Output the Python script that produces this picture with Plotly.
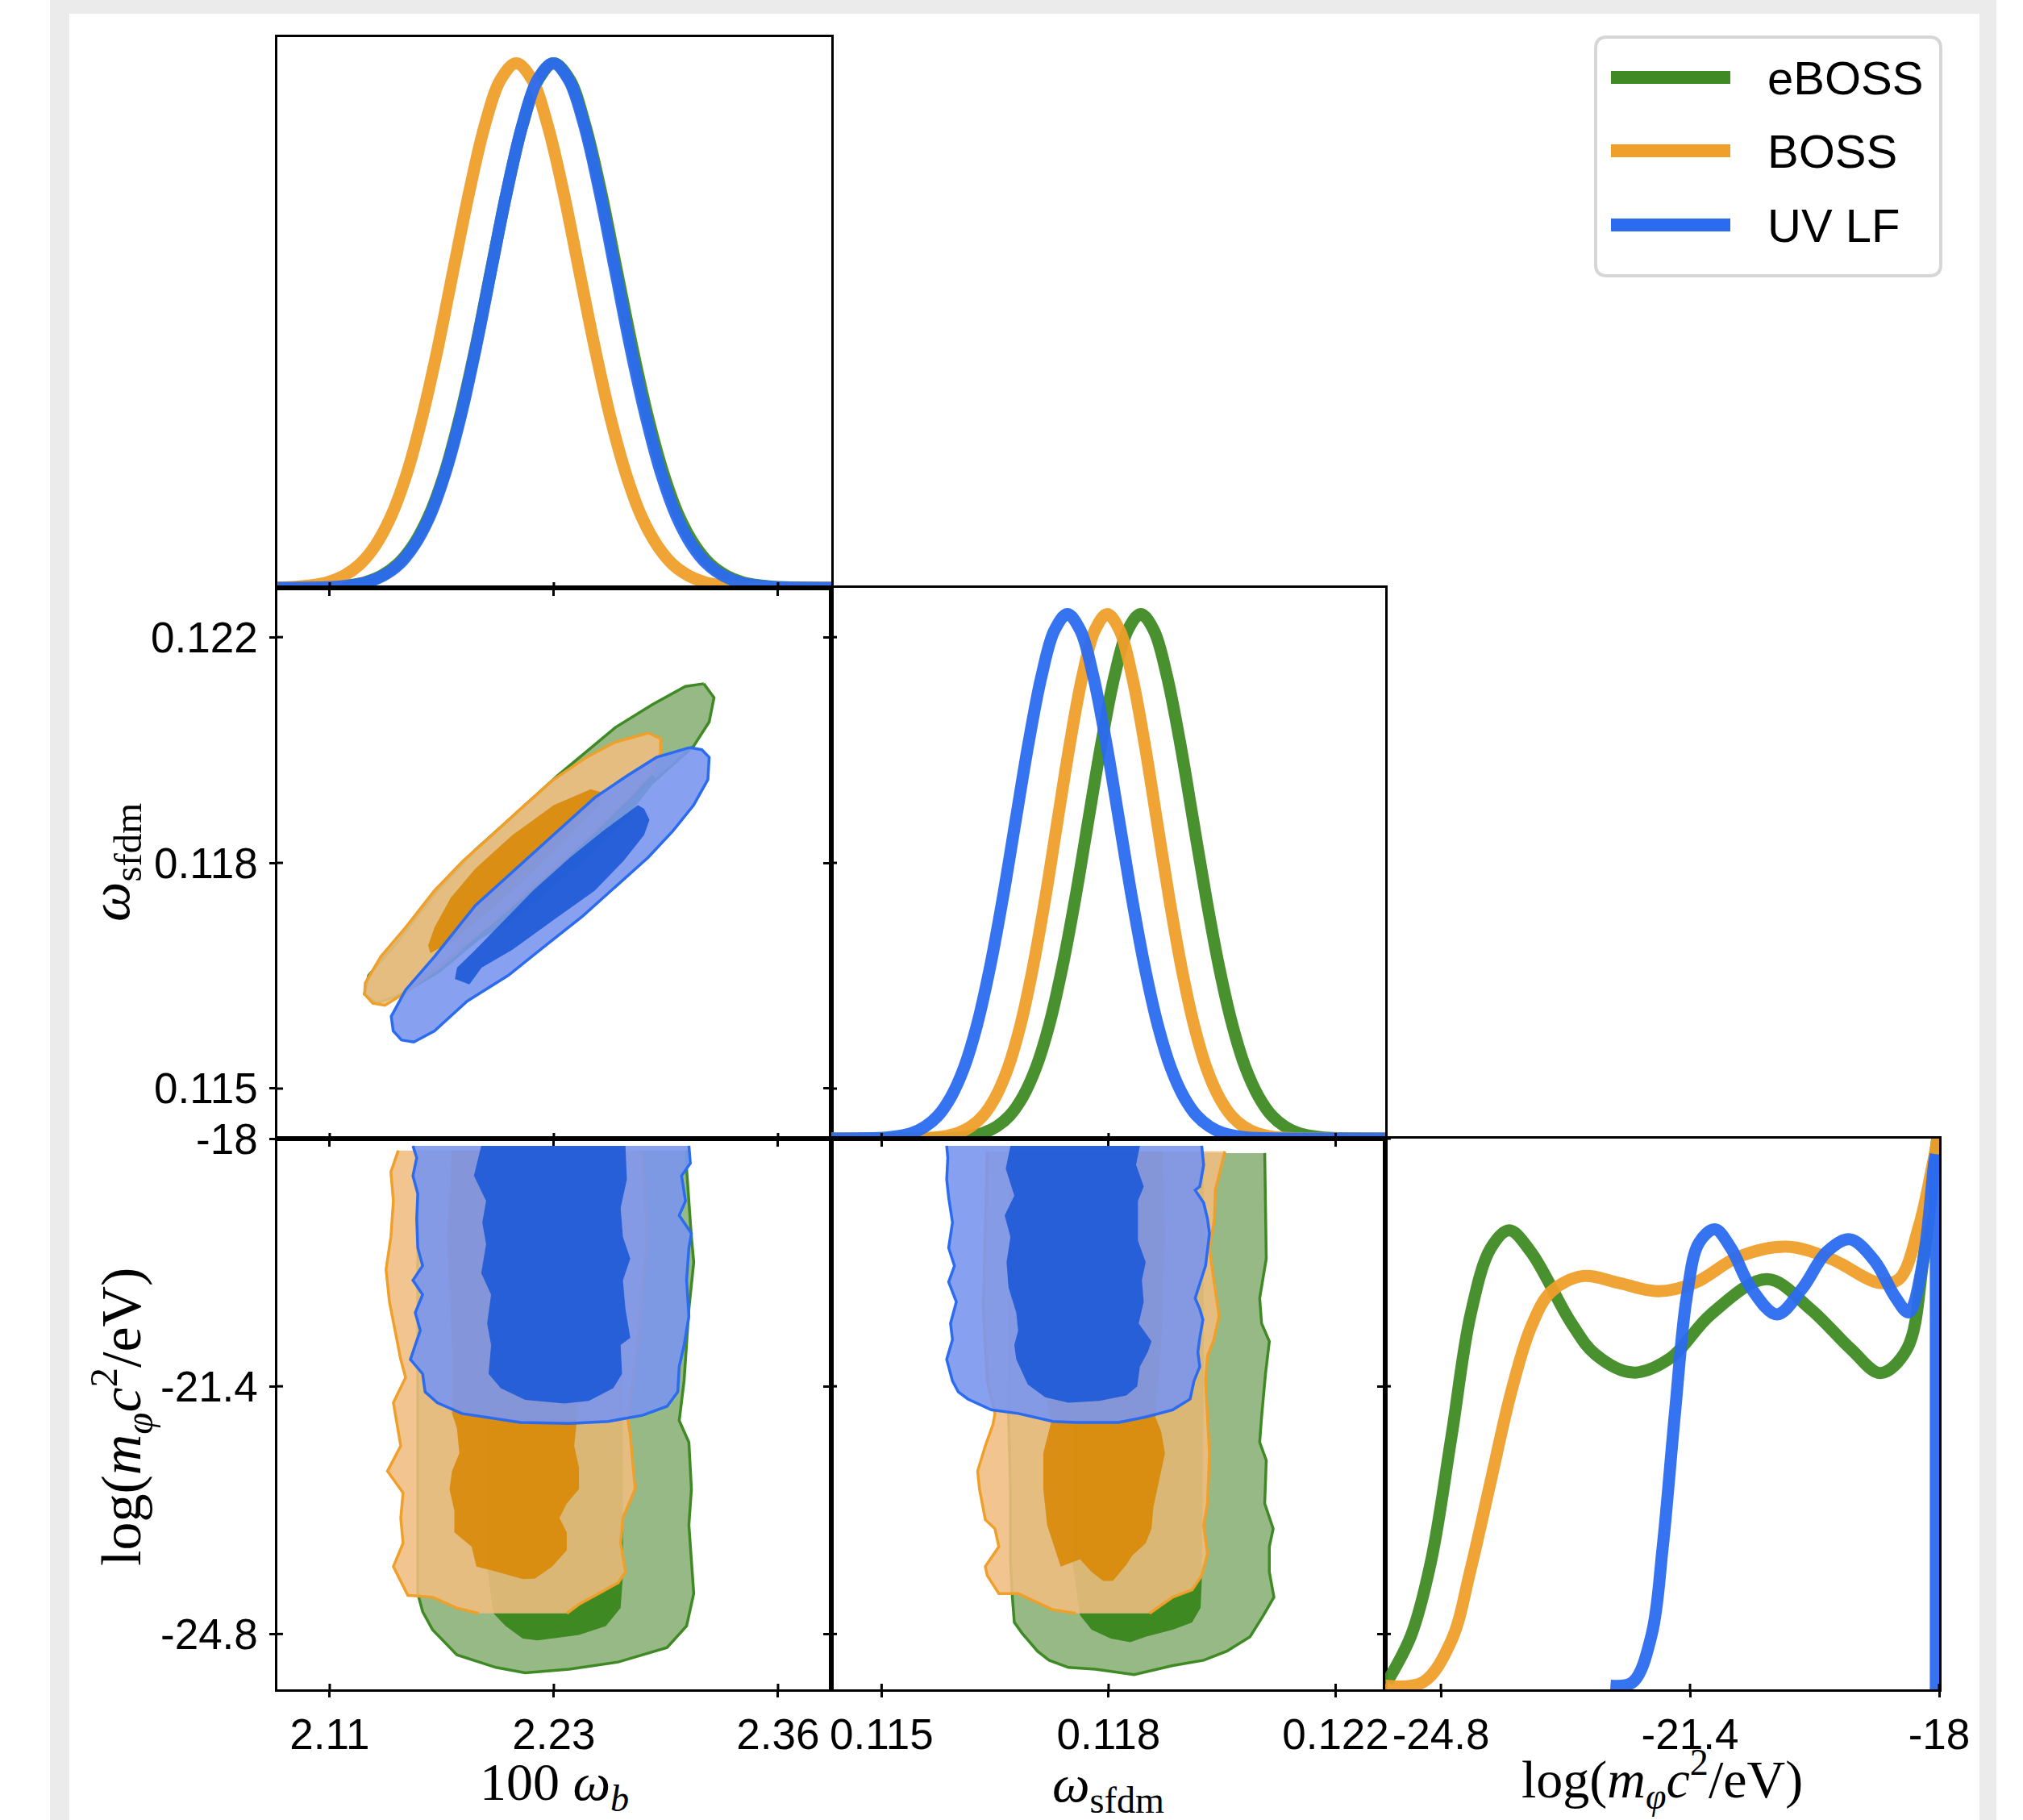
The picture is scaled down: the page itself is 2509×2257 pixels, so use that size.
import plotly.graph_objects as go

W, H = 2509, 2257

# ---------------- axes / ticks ----------------
wb_ticks = [2.105, 2.23, 2.355]
wb_labels = ["2.11", "2.23", "2.36"]
sf_ticks = [0.11525, 0.1185, 0.12175]
sf_labels = ["0.115", "0.118", "0.122"]
lm_ticks = [-24.8, -21.4, -18.0]
lm_labels = ["-24.8", "-21.4", "-18"]

wb_range = [2.0758, 2.3847]
sf_range = [0.11453, 0.12246]
lm_range = [-25.56, -18.0]
pdf_range = [0.0, 1.05]

series = ["eBOSS", "BOSS", "UV LF"]

# ---------------- 1D marginals (normalised to peak = 1) ----------------
# peak-normalised heights read along each (near-Gaussian) marginal, tail to tail
peak_profile = [0.0, 0.002, 0.005, 0.011, 0.023, 0.044, 0.080, 0.135, 0.216, 0.325, 0.458, 0.607, 0.755, 0.882, 0.969, 1.0,
                0.969, 0.882, 0.755, 0.607, 0.458, 0.325, 0.216, 0.135, 0.080, 0.044, 0.023, 0.011, 0.005, 0.002, 0.0]

wb_x_eboss = [2.076, 2.1075, 2.1163, 2.125, 2.1338, 2.1425, 2.1513, 2.16, 2.1688, 2.1775, 2.1863, 2.195, 2.2038, 2.2125, 2.2213, 2.23,
              2.2388, 2.2475, 2.2563, 2.265, 2.2738, 2.2825, 2.2913, 2.30, 2.3088, 2.3175, 2.3263, 2.335, 2.3438, 2.3525, 2.385]
wb_x_boss = [2.076, 2.0865, 2.0953, 2.104, 2.1128, 2.1215, 2.1303, 2.139, 2.1478, 2.1565, 2.1653, 2.174, 2.1828, 2.1915, 2.2003, 2.209,
             2.2178, 2.2265, 2.2353, 2.244, 2.2528, 2.2615, 2.2703, 2.279, 2.2878, 2.2965, 2.3053, 2.314, 2.3228, 2.3315, 2.385]
wb_x_uvlf = [2.076, 2.1089, 2.1175, 2.1261, 2.1347, 2.1434, 2.152, 2.1606, 2.1692, 2.1779, 2.1865, 2.1951, 2.2037, 2.2124, 2.221, 2.2296,
             2.2382, 2.2469, 2.2555, 2.2641, 2.2727, 2.2814, 2.29, 2.2986, 2.3072, 2.3159, 2.3245, 2.3331, 2.3417, 2.3504, 2.385]
wb_y_eboss = list(peak_profile)
wb_y_boss = list(peak_profile)
wb_y_uvlf = list(peak_profile)

sf_x_eboss = [0.11453, 0.116335, 0.116523, 0.11671, 0.116898, 0.117085, 0.117273, 0.11746, 0.117648, 0.117835, 0.118023, 0.11821,
              0.118398, 0.118585, 0.118773, 0.11896, 0.119148, 0.119335, 0.119523, 0.11971, 0.119898, 0.120085, 0.120273, 0.12046,
              0.120648, 0.120835, 0.121023, 0.12121, 0.121398, 0.121585, 0.12246]
sf_x_boss = [0.11453, 0.115995, 0.116173, 0.11635, 0.116528, 0.116705, 0.116883, 0.11706, 0.117238, 0.117415, 0.117593, 0.11777,
             0.117948, 0.118125, 0.118303, 0.11848, 0.118658, 0.118835, 0.119013, 0.11919, 0.119368, 0.119545, 0.119723, 0.1199,
             0.120078, 0.120255, 0.120433, 0.12061, 0.120788, 0.120965, 0.12246]
sf_x_uvlf = [0.11453, 0.11532, 0.115505, 0.11569, 0.115875, 0.11606, 0.116245, 0.11643, 0.116615, 0.1168, 0.116985, 0.11717,
             0.117355, 0.11754, 0.117725, 0.11791, 0.118095, 0.11828, 0.118465, 0.11865, 0.118835, 0.11902, 0.119205, 0.11939,
             0.119575, 0.11976, 0.119945, 0.12013, 0.120315, 0.1205, 0.12246]
sf_y_eboss = list(peak_profile)
sf_y_boss = list(peak_profile)
sf_y_uvlf = list(peak_profile)

lm_x_eboss = [-25.535, -25.206, -24.932, -24.657, -24.394, -24.120, -23.868, -23.572, -23.023, -22.694, -22.179, -21.663, -21.115, -20.347, -19.755, -19.206, -18.801, -18.439, -18.219, -18.066, -17.98]
lm_y_eboss = [0.014, 0.103, 0.246, 0.481, 0.715, 0.841, 0.875, 0.834, 0.699, 0.639, 0.604, 0.632, 0.715, 0.782, 0.725, 0.649, 0.603, 0.649, 0.816, 1.005, 1.10]
lm_x_boss = [-25.56, -25.041, -24.657, -24.394, -24.120, -23.846, -23.572, -23.297, -22.859, -22.376, -21.828, -21.334, -20.731, -20.084, -19.481, -18.823, -18.548, -18.274, -18.088, -17.98]
lm_y_boss = [0.007, 0.014, 0.093, 0.229, 0.397, 0.564, 0.690, 0.758, 0.788, 0.775, 0.759, 0.775, 0.825, 0.844, 0.821, 0.775, 0.782, 0.884, 1.001, 1.08]
lm_x_uvlf = [-22.486, -22.179, -21.926, -21.773, -21.608, -21.444, -21.279, -21.060, -20.841, -20.566, -20.215, -19.864, -19.535, -19.217, -18.877, -18.603, -18.417, -18.219, -18.066, -18.045]
lm_y_uvlf = [0.007, 0.014, 0.103, 0.271, 0.523, 0.749, 0.851, 0.877, 0.841, 0.765, 0.715, 0.765, 0.834, 0.858, 0.816, 0.749, 0.719, 0.816, 1.005, 1.02]
lm_x_uvlf_edge = [-18.045, -18.045]
lm_y_uvlf_edge = [1.02, 0.0]

# ---------------- 2D contours: 100 w_b vs w_sfdm ----------------
c21_eboss_out_x = [2.3136, 2.3193, 2.3166, 2.3079, 2.2918, 2.2643, 2.2299, 2.1955, 2.1657, 2.1450, 2.1312, 2.1244, 2.1267, 2.1427, 2.1634, 2.1863, 2.2092, 2.2322, 2.2643, 2.2849, 2.3033]
c21_eboss_out_y = [0.12108, 0.12088, 0.12053, 0.12018, 0.11981, 0.11917, 0.11837, 0.11757, 0.11693, 0.11661, 0.11648, 0.11661, 0.11688, 0.11736, 0.11805, 0.11869, 0.11922, 0.11976, 0.12045, 0.12078, 0.12104]
c21_eboss_in_x = [2.2803, 2.2872, 2.2712, 2.2414, 2.2069, 2.1794, 2.1725, 2.1863, 2.2161, 2.2482]
c21_eboss_in_y = [0.11992, 0.11970, 0.11917, 0.11842, 0.11768, 0.11725, 0.11741, 0.11789, 0.11858, 0.11933]
c21_boss_out_x = [2.2826, 2.2895, 2.2895, 2.2849, 2.2735, 2.2528, 2.2299, 2.2024, 2.1725, 2.1496, 2.1358, 2.1290, 2.1244, 2.1248, 2.1335, 2.1473, 2.1634, 2.1794, 2.1955, 2.2115, 2.2299, 2.2482, 2.2643]
c21_boss_out_y = [0.12037, 0.12029, 0.12008, 0.11981, 0.11949, 0.11896, 0.11842, 0.11779, 0.11715, 0.11667, 0.11645, 0.11648, 0.11661, 0.11677, 0.11715, 0.11757, 0.11810, 0.11853, 0.11890, 0.11928, 0.11970, 0.12002, 0.12024]
c21_boss_in_x = [2.2505, 2.2563, 2.2556, 2.2414, 2.2184, 2.1955, 2.1725, 2.1611, 2.1599, 2.1634, 2.1725, 2.1863, 2.2069, 2.2299]
c21_boss_in_y = [0.11956, 0.11952, 0.11936, 0.11896, 0.11837, 0.11784, 0.11736, 0.11720, 0.11731, 0.11757, 0.11800, 0.11842, 0.11890, 0.11933]
c21_uvlf_out_x = [2.3056, 2.3125, 2.3166, 2.3159, 2.3079, 2.2964, 2.2826, 2.2643, 2.2459, 2.2253, 2.2046, 2.1817, 2.1634, 2.1519, 2.1450, 2.1404, 2.1393, 2.1473, 2.1634, 2.1863, 2.2092, 2.2322, 2.2528, 2.2712, 2.2872]
c21_uvlf_out_y = [0.12016, 0.12013, 0.12002, 0.11970, 0.11933, 0.11896, 0.11858, 0.11816, 0.11773, 0.11731, 0.11688, 0.11651, 0.11608, 0.11592, 0.11595, 0.11608, 0.11629, 0.11667, 0.11715, 0.11789, 0.11842, 0.11896, 0.11944, 0.11976, 0.12002]
c21_uvlf_in_x = [2.2769, 2.2803, 2.2833, 2.2803, 2.2689, 2.2528, 2.2299, 2.2069, 2.1897, 2.1829, 2.1748, 2.1760, 2.1863, 2.2024, 2.2184, 2.2391, 2.2574]
c21_uvlf_in_y = [0.11933, 0.11928, 0.11912, 0.11890, 0.11853, 0.11810, 0.11768, 0.11725, 0.11699, 0.11675, 0.11683, 0.11699, 0.11725, 0.11768, 0.11810, 0.11858, 0.11896]

# ---------------- 2D contours: 100 w_b vs log m ----------------
c31_eboss_out_x = [2.3040, 2.3040, 2.3067, 2.3080, 2.3053, 2.3040, 2.3026, 2.2999, 2.3053, 2.3067, 2.3053, 2.3080, 2.3040, 2.2931, 2.2658, 2.2386, 2.2140, 2.1977, 2.1759, 2.1623, 2.1568, 2.1541, 2.1541, 2.1541, 2.1541]
c31_eboss_out_y = [-18.164, -18.411, -19.350, -19.696, -20.339, -20.834, -21.328, -21.872, -22.168, -22.811, -23.305, -24.245, -24.690, -24.987, -25.185, -25.283, -25.333, -25.259, -25.086, -24.740, -24.492, -24.245, -21.822, -19.350, -18.164]
c31_eboss_in_x = [2.1922, 2.1922, 2.1922, 2.1963, 2.2031, 2.2127, 2.2209, 2.2440, 2.2590, 2.2672, 2.2685, 2.2685, 2.2685]
c31_eboss_in_y = [-18.164, -21.822, -23.797, -24.517, -24.690, -24.863, -24.888, -24.814, -24.690, -24.443, -23.998, -21.822, -18.164]
c31_boss_out_x = [2.2794, 2.2822, 2.2767, 2.2713, 2.2726, 2.2740, 2.2753, 2.2685, 2.2672, 2.2699, 2.2658, 2.2549, 2.2440, 2.2372, 2.1882, 2.1759, 2.1623, 2.1486, 2.1405, 2.1459, 2.1446, 2.1459, 2.1372, 2.1446, 2.1405, 2.1473, 2.1446, 2.1383, 2.1364, 2.1391, 2.1405, 2.1391, 2.1432]
c31_boss_out_y = [-18.164, -19.350, -20.834, -21.872, -22.070, -22.414, -22.811, -23.207, -23.553, -23.948, -24.097, -24.245, -24.393, -24.517, -24.517, -24.443, -24.294, -24.270, -23.874, -23.553, -23.207, -22.861, -22.564, -22.218, -21.625, -21.278, -21.031, -20.240, -19.795, -19.350, -18.856, -18.460, -18.164]
c31_boss_in_x = [2.1732, 2.1704, 2.1732, 2.1732, 2.1759, 2.1773, 2.1732, 2.1718, 2.1745, 2.1745, 2.1841, 2.1868, 2.1950, 2.2059, 2.2127, 2.2195, 2.2290, 2.2372, 2.2372, 2.2331, 2.2372, 2.2440, 2.2440, 2.2413, 2.2426, 2.2440, 2.2413, 2.2440]
c31_boss_in_y = [-18.164, -19.350, -20.834, -21.773, -21.971, -22.317, -22.564, -22.811, -23.108, -23.405, -23.602, -23.874, -23.924, -23.998, -24.047, -24.037, -23.874, -23.652, -23.405, -23.207, -23.009, -22.811, -22.515, -22.218, -21.921, -20.834, -19.350, -18.164]
c31_uvlf_out_x = [2.3053, 2.3061, 2.3012, 2.3034, 2.2999, 2.3067, 2.3053, 2.3040, 2.3053, 2.3026, 2.2999, 2.2991, 2.2931, 2.2794, 2.2604, 2.2386, 2.2113, 2.1922, 2.1786, 2.1650, 2.1582, 2.1568, 2.1500, 2.1527, 2.1555, 2.1527, 2.1568, 2.1514, 2.1568, 2.1541, 2.1535, 2.1541, 2.1514, 2.1535, 2.1514]
c31_uvlf_out_y = [-18.099, -18.337, -18.510, -18.856, -19.054, -19.301, -19.499, -19.944, -20.438, -20.834, -21.130, -21.476, -21.675, -21.798, -21.882, -21.911, -21.897, -21.822, -21.773, -21.625, -21.476, -21.229, -21.031, -20.834, -20.635, -20.389, -20.141, -19.944, -19.746, -19.499, -19.103, -18.757, -18.510, -18.263, -18.099]
c31_uvlf_in_x = [2.1895, 2.1854, 2.1922, 2.1901, 2.1922, 2.1895, 2.1950, 2.1928, 2.1950, 2.1936, 2.2004, 2.2140, 2.2358, 2.2495, 2.2631, 2.2680, 2.2672, 2.2726, 2.2699, 2.2685, 2.2726, 2.2685, 2.2672, 2.2707, 2.2699]
c31_uvlf_in_y = [-18.099, -18.510, -18.856, -19.152, -19.449, -19.845, -20.141, -20.537, -20.834, -21.229, -21.427, -21.585, -21.635, -21.600, -21.427, -21.229, -20.834, -20.735, -20.339, -19.944, -19.647, -19.350, -18.955, -18.559, -18.099]

# ---------------- 2D contours: w_sfdm vs log m ----------------
c32_eboss_out_x = [0.120735, 0.120746, 0.120757, 0.120663, 0.120690, 0.120801, 0.120746, 0.120690, 0.120663, 0.120757, 0.120735, 0.120856, 0.120801, 0.120801, 0.120867, 0.120718, 0.120525, 0.120193, 0.119861, 0.119418, 0.118865, 0.118312, 0.117924, 0.117648, 0.117482, 0.117261, 0.117150, 0.117122, 0.117095, 0.117095, 0.117067, 0.117095, 0.117095]
c32_eboss_out_y = [-18.198, -18.856, -19.647, -20.191, -20.537, -20.784, -21.229, -21.822, -22.168, -22.416, -23.009, -23.355, -23.602, -23.948, -24.294, -24.541, -24.838, -25.036, -25.160, -25.234, -25.357, -25.283, -25.259, -25.160, -25.036, -24.789, -24.640, -24.294, -23.797, -22.811, -21.822, -20.339, -18.198]
c32_eboss_in_x = [0.117980, 0.119861, 0.119861, 0.119833, 0.119816, 0.119695, 0.119418, 0.119031, 0.118810, 0.118533, 0.118256, 0.118090, 0.117980, 0.117980]
c32_eboss_in_y = [-18.198, -18.198, -21.328, -24.097, -24.443, -24.640, -24.740, -24.838, -24.913, -24.863, -24.740, -24.541, -23.797, -21.328]
c32_boss_out_x = [0.120165, 0.120027, 0.120016, 0.119944, 0.119999, 0.120082, 0.119999, 0.119916, 0.119888, 0.119944, 0.119916, 0.119861, 0.119916, 0.119833, 0.119695, 0.119418, 0.119086, 0.118035, 0.117703, 0.117482, 0.117205, 0.116929, 0.116763, 0.116735, 0.116929, 0.116873, 0.116735, 0.116652, 0.116625, 0.116735, 0.116846, 0.116873, 0.116763, 0.116707, 0.116735, 0.116763]
c32_boss_out_y = [-18.174, -18.708, -19.103, -19.499, -19.894, -20.438, -20.784, -20.982, -21.328, -22.317, -23.009, -23.305, -23.701, -23.998, -24.195, -24.294, -24.517, -24.517, -24.467, -24.369, -24.245, -24.245, -23.998, -23.874, -23.602, -23.355, -23.231, -22.811, -22.564, -22.218, -21.921, -21.773, -21.328, -20.339, -19.350, -18.174]
c32_boss_in_x = [0.117454, 0.117426, 0.117482, 0.117676, 0.117565, 0.117565, 0.117620, 0.117703, 0.117814, 0.118090, 0.118256, 0.118422, 0.118561, 0.118754, 0.118837, 0.119031, 0.119114, 0.119141, 0.119197, 0.119307, 0.119252, 0.119169, 0.119252, 0.119307, 0.119280]
c32_boss_in_y = [-18.174, -19.350, -20.834, -21.897, -22.317, -22.811, -23.305, -23.553, -23.874, -23.775, -23.948, -24.072, -24.072, -23.849, -23.726, -23.553, -23.355, -23.058, -22.811, -22.317, -22.020, -21.822, -20.834, -19.350, -18.174]
c32_uvlf_out_x = [0.119833, 0.119861, 0.119805, 0.119739, 0.119861, 0.119916, 0.119944, 0.119916, 0.119888, 0.119805, 0.119739, 0.119805, 0.119850, 0.119805, 0.119778, 0.119805, 0.119722, 0.119667, 0.119418, 0.119031, 0.118644, 0.118035, 0.117703, 0.117205, 0.116818, 0.116486, 0.116348, 0.116265, 0.116182, 0.116265, 0.116237, 0.116320, 0.116210, 0.116293, 0.116210, 0.116265, 0.116210, 0.116182, 0.116198, 0.116182]
c32_uvlf_out_y = [-18.099, -18.361, -18.658, -18.708, -18.881, -19.103, -19.301, -19.548, -19.746, -19.993, -20.191, -20.339, -20.487, -20.735, -20.932, -21.130, -21.328, -21.575, -21.723, -21.822, -21.897, -21.897, -21.882, -21.773, -21.723, -21.575, -21.476, -21.328, -21.031, -20.759, -20.537, -20.240, -19.968, -19.746, -19.499, -19.152, -18.806, -18.559, -18.263, -18.099]
c32_uvlf_in_x = [0.117095, 0.117028, 0.117150, 0.117012, 0.117095, 0.117039, 0.117067, 0.117178, 0.117205, 0.117150, 0.117178, 0.117344, 0.117592, 0.117924, 0.118367, 0.118754, 0.118909, 0.118948, 0.119059, 0.119114, 0.118931, 0.119003, 0.118976, 0.119031, 0.118920, 0.118920, 0.119003, 0.118893, 0.118948]
c32_uvlf_in_y = [-18.099, -18.411, -18.782, -19.054, -19.350, -19.696, -20.042, -20.389, -20.636, -20.834, -21.031, -21.377, -21.550, -21.625, -21.600, -21.526, -21.402, -21.130, -20.932, -20.784, -20.537, -20.240, -19.944, -19.696, -19.400, -18.856, -18.658, -18.361, -18.099]

# ---------------- styles ----------------
LINE = {"eBOSS": "rgba(63,138,36,0.95)", "BOSS": "rgba(239,159,42,0.95)", "UV LF": "rgba(43,107,239,0.95)"}
SOLID = {"eBOSS": "#3f8a24", "BOSS": "#efa02b", "UV LF": "#2b6bef"}
FILL_OUT = {"eBOSS": "rgba(139,177,121,0.9)", "BOSS": "rgba(240,189,129,0.88)", "UV LF": "rgba(122,150,238,0.9)"}
FILL_IN = {"eBOSS": "rgba(58,134,28,0.95)", "BOSS": "rgba(216,138,8,0.9)", "UV LF": "rgba(30,90,215,0.92)"}

fig = go.Figure()


def add_1d(x, y, name, xa, ya, shape="spline"):
    fig.add_trace(go.Scatter(x=x, y=y, mode="lines", name=name, xaxis=xa, yaxis=ya,
                             line=dict(color=LINE[name], width=15, shape=shape, smoothing=1.0),
                             hoverinfo="skip", showlegend=False))


def add_2d(ox, oy, ix, iy, name, xa, ya, gaps=(), closed=False):
    fig.add_trace(go.Scatter(x=ox, y=oy, mode="lines", fill="toself", fillcolor=FILL_OUT[name],
                             line=dict(width=0), xaxis=xa, yaxis=ya, name=name,
                             hoverinfo="skip", showlegend=False))
    fig.add_trace(go.Scatter(x=ix, y=iy, mode="lines", fill="toself", fillcolor=FILL_IN[name],
                             line=dict(width=0), xaxis=xa, yaxis=ya, name=name,
                             hoverinfo="skip", showlegend=False))
    lx, ly = [], []
    for i, (a, b) in enumerate(zip(ox, oy)):
        lx.append(a)
        ly.append(b)
        if i in gaps:
            lx.append(None)
            ly.append(None)
    if closed:
        lx.append(ox[0])
        ly.append(oy[0])
    fig.add_trace(go.Scatter(x=lx, y=ly, mode="lines", line=dict(color=SOLID[name], width=3.5),
                             xaxis=xa, yaxis=ya, name=name, connectgaps=False,
                             hoverinfo="skip", showlegend=False))


# diagonal 1: 100 w_b
add_1d(wb_x_eboss, wb_y_eboss, "eBOSS", "x", "y")
add_1d(wb_x_boss, wb_y_boss, "BOSS", "x", "y")
add_1d(wb_x_uvlf, wb_y_uvlf, "UV LF", "x", "y")

# panel (2,1)
add_2d(c21_eboss_out_x, c21_eboss_out_y, c21_eboss_in_x, c21_eboss_in_y, "eBOSS", "x2", "y2", closed=True)
add_2d(c21_boss_out_x, c21_boss_out_y, c21_boss_in_x, c21_boss_in_y, "BOSS", "x2", "y2", closed=True)
add_2d(c21_uvlf_out_x, c21_uvlf_out_y, c21_uvlf_in_x, c21_uvlf_in_y, "UV LF", "x2", "y2", closed=True)

# diagonal 2: w_sfdm
add_1d(sf_x_eboss, sf_y_eboss, "eBOSS", "x3", "y3")
add_1d(sf_x_boss, sf_y_boss, "BOSS", "x3", "y3")
add_1d(sf_x_uvlf, sf_y_uvlf, "UV LF", "x3", "y3")

# panel (3,1)
add_2d(c31_eboss_out_x, c31_eboss_out_y, c31_eboss_in_x, c31_eboss_in_y, "eBOSS", "x4", "y4")
add_2d(c31_boss_out_x, c31_boss_out_y, c31_boss_in_x, c31_boss_in_y, "BOSS", "x4", "y4", gaps=(13,))
add_2d(c31_uvlf_out_x, c31_uvlf_out_y, c31_uvlf_in_x, c31_uvlf_in_y, "UV LF", "x4", "y4")

# panel (3,2)
add_2d(c32_eboss_out_x, c32_eboss_out_y, c32_eboss_in_x, c32_eboss_in_y, "eBOSS", "x5", "y5")
add_2d(c32_boss_out_x, c32_boss_out_y, c32_boss_in_x, c32_boss_in_y, "BOSS", "x5", "y5", gaps=(16,))
add_2d(c32_uvlf_out_x, c32_uvlf_out_y, c32_uvlf_in_x, c32_uvlf_in_y, "UV LF", "x5", "y5")

# diagonal 3: log m
add_1d(lm_x_eboss, lm_y_eboss, "eBOSS", "x6", "y6")
add_1d(lm_x_boss, lm_y_boss, "BOSS", "x6", "y6")
add_1d(lm_x_uvlf, lm_y_uvlf, "UV LF", "x6", "y6")
add_1d(lm_x_uvlf_edge, lm_y_uvlf_edge, "UV LF", "x6", "y6", shape="linear")

# ---------------- layout ----------------
COLS = [(344, 1031), (1031, 1718), (1718, 2405)]
ROWS = [(46, 729), (729, 1412), (1412, 2095)]


def xdom(c):
    return [COLS[c][0] / W, COLS[c][1] / W]


def ydom(r):
    return [1 - ROWS[r][1] / H, 1 - ROWS[r][0] / H]


TICKFONT = dict(family="Liberation Sans", size=53, color="black")


def axis(domain, rng, anchor, tickvals=None, ticktext=None, labels=False):
    d = dict(domain=domain, range=rng, anchor=anchor, showgrid=False, zeroline=False,
             showline=True, linecolor="black", linewidth=3, mirror=True, fixedrange=True,
             automargin=False)
    if tickvals is None:
        d.update(ticks="", showticklabels=False)
    else:
        d.update(tickmode="array", tickvals=tickvals, ticks="outside", ticklen=7, tickwidth=3,
                 tickcolor="black", showticklabels=labels, tickfont=TICKFONT)
        if ticktext is not None:
            d.update(ticktext=ticktext)
    return d


def pdf_ticks(vals, rng):
    return [(v - rng[0]) / (rng[1] - rng[0]) * (pdf_range[1] - pdf_range[0]) + pdf_range[0] for v in vals]


layout_axes = dict(
    xaxis=axis(xdom(0), wb_range, "y", wb_ticks, wb_labels),
    yaxis=axis(ydom(0), pdf_range, "x"),
    xaxis2=axis(xdom(0), wb_range, "y2", wb_ticks, wb_labels),
    yaxis2=axis(ydom(1), sf_range, "x2", sf_ticks, sf_labels),
    xaxis3=axis(xdom(1), sf_range, "y3", sf_ticks, sf_labels),
    yaxis3=axis(ydom(1), pdf_range, "x3", pdf_ticks(sf_ticks, sf_range)),
    xaxis4=axis(xdom(0), wb_range, "y4", wb_ticks, wb_labels, labels=True),
    yaxis4=axis(ydom(2), lm_range, "x4", lm_ticks, lm_labels),
    xaxis5=axis(xdom(1), sf_range, "y5", sf_ticks, sf_labels, labels=True),
    yaxis5=axis(ydom(2), lm_range, "x5", lm_ticks, lm_labels),
    xaxis6=axis(xdom(2), lm_range, "y6", lm_ticks, lm_labels, labels=True),
    yaxis6=axis(ydom(2), pdf_range, "x6", pdf_ticks(lm_ticks, lm_range)),
)

shapes = []
# page frame
shapes.append(dict(type="rect", xref="paper", yref="paper", x0=62 / W, x1=2476 / W, y0=-0.02, y1=1.0,
                   fillcolor="#ebebeb", line=dict(width=0), layer="below"))
shapes.append(dict(type="rect", xref="paper", yref="paper", x0=86 / W, x1=2455 / W, y0=-0.02, y1=1 - 17 / H,
                   fillcolor="white", line=dict(width=0), layer="below"))

# inner halves of the crossing tick marks
TL = 7
for key, ax in layout_axes.items():
    vals = ax.get("tickvals")
    if not vals:
        continue
    isx = key.startswith("x")
    suffix = key[5:]
    xr = "x" + suffix
    yr = "y" + suffix
    for v in vals:
        if isx:
            frac = TL / (ROWS[0][1] - ROWS[0][0])
            shapes.append(dict(type="line", xref=xr, yref=yr + " domain", x0=v, x1=v, y0=0, y1=frac,
                               line=dict(color="black", width=3)))
        else:
            frac = TL / (COLS[0][1] - COLS[0][0])
            shapes.append(dict(type="line", xref=xr + " domain", yref=yr, x0=0, x1=frac, y0=v, y1=v,
                               line=dict(color="black", width=3)))

# legend box (rounded)
lx0, lx1, ly0, ly1 = 1979 / W, 2407 / W, 1 - 342 / H, 1 - 46 / H
rx, ry = 14 / W, 14 / H
path = (f"M{lx0+rx},{ly1} L{lx1-rx},{ly1} Q{lx1},{ly1} {lx1},{ly1-ry} L{lx1},{ly0+ry} "
        f"Q{lx1},{ly0} {lx1-rx},{ly0} L{lx0+rx},{ly0} Q{lx0},{ly0} {lx0},{ly0+ry} "
        f"L{lx0},{ly1-ry} Q{lx0},{ly1} {lx0+rx},{ly1} Z")
shapes.append(dict(type="path", xref="paper", yref="paper", path=path, fillcolor="white",
                   line=dict(color="#d6d6d6", width=4)))

annotations = []
legend_rows = [96, 187, 279]
for name, py in zip(series, legend_rows):
    shapes.append(dict(type="line", xref="paper", yref="paper", x0=1998 / W, x1=2146 / W,
                       y0=1 - py / H, y1=1 - py / H, line=dict(color=SOLID[name], width=16)))
    annotations.append(dict(text=name, xref="paper", yref="paper", x=2190 / W, y=1 - py / H,
                            xanchor="left", yanchor="middle", showarrow=False,
                            font=dict(family="Liberation Sans", size=58, color="black")))

# y tick labels of the left column (placed right-aligned just left of the tick marks)
YLAB_X = 322 / W
for yref, vals, texts in (("y2", sf_ticks, sf_labels), ("y4", lm_ticks, lm_labels)):
    for v, t in zip(vals, texts):
        annotations.append(dict(text=t, xref="paper", yref=yref, x=YLAB_X, y=v, xanchor="right",
                                yanchor="middle", showarrow=False, font=TICKFONT))

TITLEFONT = dict(family="Liberation Serif", size=66, color="black")
YTITLEFONT = dict(family="Liberation Serif", size=70, color="black")
annotations += [
    dict(text="100 <i>ω</i><sub><i>b</i></sub>", xref="paper", yref="paper", x=687 / W, y=1 - 2214 / H,
         xanchor="center", yanchor="middle", showarrow=False, font=TITLEFONT),
    dict(text="<i>ω</i><sub>sfdm</sub>", xref="paper", yref="paper", x=1374 / W, y=1 - 2216 / H,
         xanchor="center", yanchor="middle", showarrow=False, font=TITLEFONT),
    dict(text="log(<i>m</i><sub><i>φ</i></sub><i>c</i><sup>2</sup>/eV)", xref="paper", yref="paper",
         x=2061 / W, y=1 - 2255 / H, xanchor="center", yanchor="bottom", showarrow=False,
         font=dict(family="Liberation Serif", size=66, color="black")),
    dict(text="<i>ω</i><sub>sfdm</sub>", xref="paper", yref="paper", x=142 / W, y=1 - 1070 / H,
         xanchor="center", yanchor="middle", showarrow=False, font=YTITLEFONT, textangle=-90),
    dict(text="log(<i>m</i><sub><i>φ</i></sub><i>c</i><sup>2</sup>/eV)", xref="paper", yref="paper",
         x=150 / W, y=1 - 1757 / H, xanchor="center", yanchor="middle", showarrow=False,
         font=YTITLEFONT, textangle=-90),
]

fig.update_layout(
    width=W, height=H, margin=dict(l=0, r=0, t=0, b=0, autoexpand=False),
    paper_bgcolor="white", plot_bgcolor="rgba(0,0,0,0)",
    showlegend=False, shapes=shapes, annotations=annotations,
    **layout_axes,
)

fig.write_html("out.html", config={"displayModeBar": False},
               post_script="document.body.style.margin='0';document.body.style.overflow='hidden';")
